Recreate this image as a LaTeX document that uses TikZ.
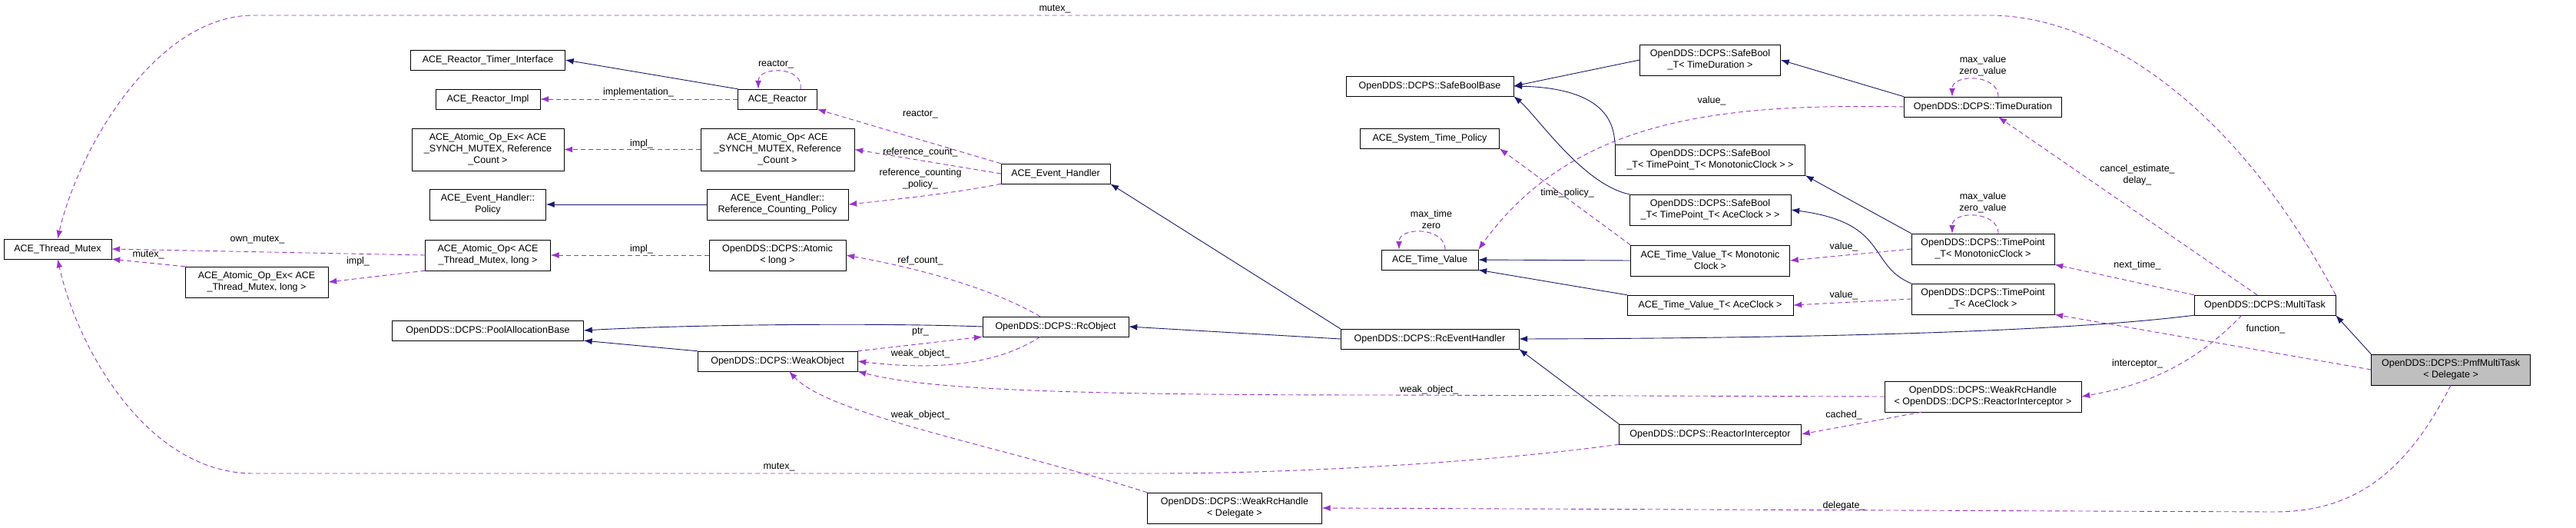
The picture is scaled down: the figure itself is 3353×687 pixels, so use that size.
\documentclass[tikz,border=0pt]{standalone}
\usepackage{fontspec}
\setmainfont{Liberation Sans}
\usetikzlibrary{arrows.meta}
\definecolor{inhcol}{HTML}{191970}
\definecolor{usecol}{HTML}{9A32CD}
\tikzset{
  cls/.style={draw,fill=white,align=center,inner sep=1pt,minimum height=26pt,font=\fontsize{12.5}{15}\selectfont},
  inh/.style={draw=inhcol,line width=0.9pt,-{Latex[length=11pt,width=8pt]}},
  use/.style={draw=usecol,line width=0.9pt,dash pattern=on 6pt off 4pt,-{Latex[length=11pt,width=8pt]}},
  lbl/.style={inner sep=0pt,align=center,font=\fontsize{12.5}{15}\selectfont}
}
\begin{document}
\begin{tikzpicture}[x=1pt,y=-1pt]
  \useasboundingbox (0,0) rectangle (3353,687);

  % classes
  \node[cls,minimum width=140] (tm) at (75,324) {ACE\_Thread\_Mutex};
  \node[cls,minimum width=186,minimum height=40] (aoextm) at (334,367) {ACE\_Atomic\_Op\_Ex< ACE\\\_Thread\_Mutex, long >};
  \node[cls,minimum width=201] (timerif) at (635,78) {ACE\_Reactor\_Timer\_Interface};
  \node[cls,minimum width=136] (rimpl) at (635,129) {ACE\_Reactor\_Impl};
  \node[cls,minimum width=198,minimum height=55] (aoexsy) at (635,194.5) {ACE\_Atomic\_Op\_Ex< ACE\\\_SYNCH\_MUTEX, Reference\\\_Count >};
  \node[cls,minimum width=151,minimum height=40] (ehpol) at (635,266) {ACE\_Event\_Handler::\\Policy};
  \node[cls,minimum width=163,minimum height=40] (aoptm) at (635,332) {ACE\_Atomic\_Op< ACE\\\_Thread\_Mutex, long >};
  \node[cls,minimum width=249] (pool) at (635,430) {OpenDDS::DCPS::PoolAllocationBase};
  \node[cls,minimum width=103] (reactor) at (1012,129) {ACE\_Reactor};
  \node[cls,minimum width=200,minimum height=55] (aopsy) at (1012,194.5) {ACE\_Atomic\_Op< ACE\\\_SYNCH\_MUTEX, Reference\\\_Count >};
  \node[cls,minimum width=184,minimum height=40] (rcpol) at (1012,266) {ACE\_Event\_Handler::\\Reference\_Counting\_Policy};
  \node[cls,minimum width=178,minimum height=40] (atomlong) at (1012,332) {OpenDDS::DCPS::Atomic\\< long >};
  \node[cls,minimum width=208] (weakobj) at (1012,470) {OpenDDS::DCPS::WeakObject};
  \node[cls,minimum width=142] (evh) at (1374,226) {ACE\_Event\_Handler};
  \node[cls,minimum width=190] (rcobj) at (1374,425) {OpenDDS::DCPS::RcObject};
  \node[cls,minimum width=232] (rceh) at (1861,441) {OpenDDS::DCPS::RcEventHandler};
  \node[cls,minimum width=227,minimum height=40] (wrhdel) at (1607,661) {OpenDDS::DCPS::WeakRcHandle\\< Delegate >};
  \node[cls,minimum width=218] (sbbase) at (1861,112) {OpenDDS::DCPS::SafeBoolBase};
  \node[cls,minimum width=181] (stpol) at (1861,180) {ACE\_System\_Time\_Policy};
  \node[cls,minimum width=126] (tval) at (1861,338) {ACE\_Time\_Value};
  \node[cls,minimum width=237] (rint) at (2226,565) {OpenDDS::DCPS::ReactorInterceptor};
  \node[cls,minimum width=183,minimum height=40] (sbtd) at (2226,78) {OpenDDS::DCPS::SafeBool\\\_T< TimeDuration >};
  \node[cls,minimum width=247,minimum height=40] (sbmono) at (2226,208) {OpenDDS::DCPS::SafeBool\\\_T< TimePoint\_T< MonotonicClock > >};
  \node[cls,minimum width=210,minimum height=40] (sbace) at (2226,273) {OpenDDS::DCPS::SafeBool\\\_T< TimePoint\_T< AceClock > >};
  \node[cls,minimum width=207,minimum height=40] (tvmono) at (2226,339) {ACE\_Time\_Value\_T< Monotonic\\Clock >};
  \node[cls,minimum width=216] (tvace) at (2226,397) {ACE\_Time\_Value\_T< AceClock >};
  \node[cls,minimum width=205] (tdur) at (2581,139) {OpenDDS::DCPS::TimeDuration};
  \node[cls,minimum width=186,minimum height=40] (tpmono) at (2581,324) {OpenDDS::DCPS::TimePoint\\\_T< MonotonicClock >};
  \node[cls,minimum width=186,minimum height=40] (tpace) at (2581,389) {OpenDDS::DCPS::TimePoint\\\_T< AceClock >};
  \node[cls,minimum width=256,minimum height=40] (wrhri) at (2581,516) {OpenDDS::DCPS::WeakRcHandle\\< OpenDDS::DCPS::ReactorInterceptor >};
  \node[cls,minimum width=184] (mtask) at (2948,397) {OpenDDS::DCPS::MultiTask};
  \node[cls,minimum width=207,minimum height=40,fill=black!25] (pmf) at (3190,481) {OpenDDS::DCPS::PmfMultiTask\\< Delegate >};

  % inheritance
  \draw[inh] (reactor.north west) -- (timerif.east);
  \draw[inh] (rcpol) -- (ehpol);
  \draw[inh] (weakobj.north west) -- (pool.south east);
  \draw[inh] (rcobj.west) .. controls (1150,420) and (900,422) .. (pool.east);
  \draw[inh] (rceh.north west) -- (evh.south east);
  \draw[inh] (rceh.west) -- (rcobj.east);
  \draw[inh] (rint.north west) -- (rceh.south east);
  \draw[inh] (mtask.south west) .. controls (2700,430) and (2400,440) .. (rceh.east);
  \draw[inh] (pmf.north west) -- (mtask.south east);
  \draw[inh] (sbtd.west) -- (sbbase.east);
  \draw[inh] (sbmono.north west) .. controls (2100,175) and (2105,115) .. (sbbase.east);
  \draw[inh] (sbace.north west) .. controls (2060,240) and (2000,150) .. (sbbase.south east);
  \draw[inh] (tvmono.west) -- (tval.east);
  \draw[inh] (tvace.north west) -- (tval.south east);
  \draw[inh] (tdur.north west) -- (sbtd.east);
  \draw[inh] (tpmono.north west) -- (sbmono.south east);
  \draw[inh] (tpace.north west) .. controls (2430,345) and (2460,290) .. (sbace.east);

  % usage
  \draw[use] (mtask.north east) .. controls (2900,120) and (2720,20) .. (2590,20) -- (330,20) .. controls (200,20) and (100,200) .. (tm.north);
  \node[lbl] (lmtx) at (1373,12) {mutex\_};
  \draw[use] (rint.south west) .. controls (1950,600) and (1700,616) .. (1500,616) -- (330,616) .. controls (190,616) and (100,450) .. (tm.south);
  \node[lbl] (lmtxb) at (1014,608) {mutex\_};
  \draw[use] (pmf.south) .. controls (3130,620) and (3060,666) .. (2960,666) -- (wrhdel.east);
  \node[lbl] (ldel) at (2400,658) {delegate\_};
  \draw[use] ([xshift=30]reactor.north) .. controls ([xshift=35,yshift=30]reactor.north) and ([xshift=-25,yshift=30]reactor.north) .. ([xshift=-25]reactor.north);
  \node[lbl] (lrself) at (1010,84) {reactor\_};
  \draw[use] (reactor.west) -- (rimpl.east);
  \node[lbl] (limpl) at (831,120) {implementation\_};
  \draw[use] (evh.north west) -- (reactor.south east);
  \node[lbl] (lreact) at (1198,149) {reactor\_};
  \draw[use] (aopsy.west) -- (aoexsy.east);
  \node[lbl] (limp1) at (835,187) {impl\_};
  \draw[use] (evh.west) -- (aopsy.east);
  \node[lbl] (lrefc) at (1198,198) {reference\_count\_};
  \draw[use] (evh.south west) .. controls (1250,250) and (1180,258) .. (rcpol.east);
  \node[lbl] (lrcp) at (1198,233) {reference\_counting\\\_policy\_};
  \draw[use] (aoptm.west) -- (tm.east);
  \node[lbl] (lown) at (335,312) {own\_mutex\_};
  \draw[use] (aoextm.north west) -- (tm.south east);
  \node[lbl] (lmtx2) at (193,332) {mutex\_};
  \draw[use] (aoptm.south west) -- (aoextm.east);
  \node[lbl] (limp2) at (466,340) {impl\_};
  \draw[use] (atomlong.west) -- (aoptm.east);
  \node[lbl] (limp3) at (835,324) {impl\_};
  \draw[use] ([xshift=-20]rcobj.north) .. controls (1290,375) and (1200,350) .. (atomlong.east);
  \node[lbl] (lrefc2) at (1198,339) {ref\_count\_};
  \draw[use] (weakobj.north east) -- (rcobj.south west);
  \node[lbl] (lptr) at (1198,432) {ptr\_};
  \draw[use] ([xshift=-20]rcobj.south) .. controls (1290,480) and (1200,480) .. (weakobj.east);
  \node[lbl] (lwo1) at (1198,460) {weak\_object\_};
  \draw[use] (wrhri.west) -- (1800,514) .. controls (1350,514) and (1200,505) .. (weakobj.south east);
  \node[lbl] (lwo2) at (1860,507) {weak\_object\_};
  \draw[use] (wrhdel.north west) .. controls (1300,580) and (1080,540) .. ([xshift=15]weakobj.south);
  \node[lbl] (lwo3) at (1198,540) {weak\_object\_};
  \draw[use] ([xshift=20]tval.north) .. controls ([xshift=20,yshift=30]tval.north) and ([xshift=-40,yshift=30]tval.north) .. ([xshift=-40]tval.north);
  \node[lbl] (lmaxt) at (1863,286) {max\_time\\zero};
  \draw[use] (tvmono.north west) -- (stpol.south east);
  \node[lbl] (ltpol) at (2040,251) {time\_policy\_};
  \draw[use] (tdur.west) .. controls (2250,135) and (2050,150) .. (tval.north east);
  \node[lbl] (lval1) at (2228,131) {value\_};
  \draw[use] ([xshift=20]tdur.north) .. controls ([xshift=20,yshift=30]tdur.north) and ([xshift=-40,yshift=30]tdur.north) .. ([xshift=-40]tdur.north);
  \node[lbl] (lmaxv1) at (2581,86) {max\_value\\zero\_value};
  \draw[use] ([xshift=20]tpmono.north) .. controls ([xshift=20,yshift=30]tpmono.north) and ([xshift=-40,yshift=30]tpmono.north) .. ([xshift=-40]tpmono.north);
  \node[lbl] (lmaxv2) at (2581,264) {max\_value\\zero\_value};
  \draw[use] (tpmono.west) -- (tvmono.east);
  \node[lbl] (lval2) at (2400,321) {value\_};
  \draw[use] (tpace.west) -- (tvace.east);
  \node[lbl] (lval3) at (2400,384) {value\_};
  \draw[use] ([xshift=-10]mtask.north) -- ([xshift=20]tdur.south);
  \node[lbl] (lcanc) at (2782,228) {cancel\_estimate\_\\delay\_};
  \draw[use] (mtask.north west) -- (tpmono.south east);
  \node[lbl] (lnext) at (2782,345) {next\_time\_};
  \draw[use] (pmf.west) -- (tpace.south east);
  \node[lbl] (lfunc) at (2949,428) {function\_};
  \draw[use] ([xshift=-30]mtask.south) .. controls (2860,470) and (2800,500) .. (wrhri.east);
  \node[lbl] (linter) at (2782,473) {interceptor\_};
  \draw[use] ([xshift=-80]wrhri.south) -- (rint.east);
  \node[lbl] (lcach) at (2400,540) {cached\_};
\end{tikzpicture}
\end{document}
